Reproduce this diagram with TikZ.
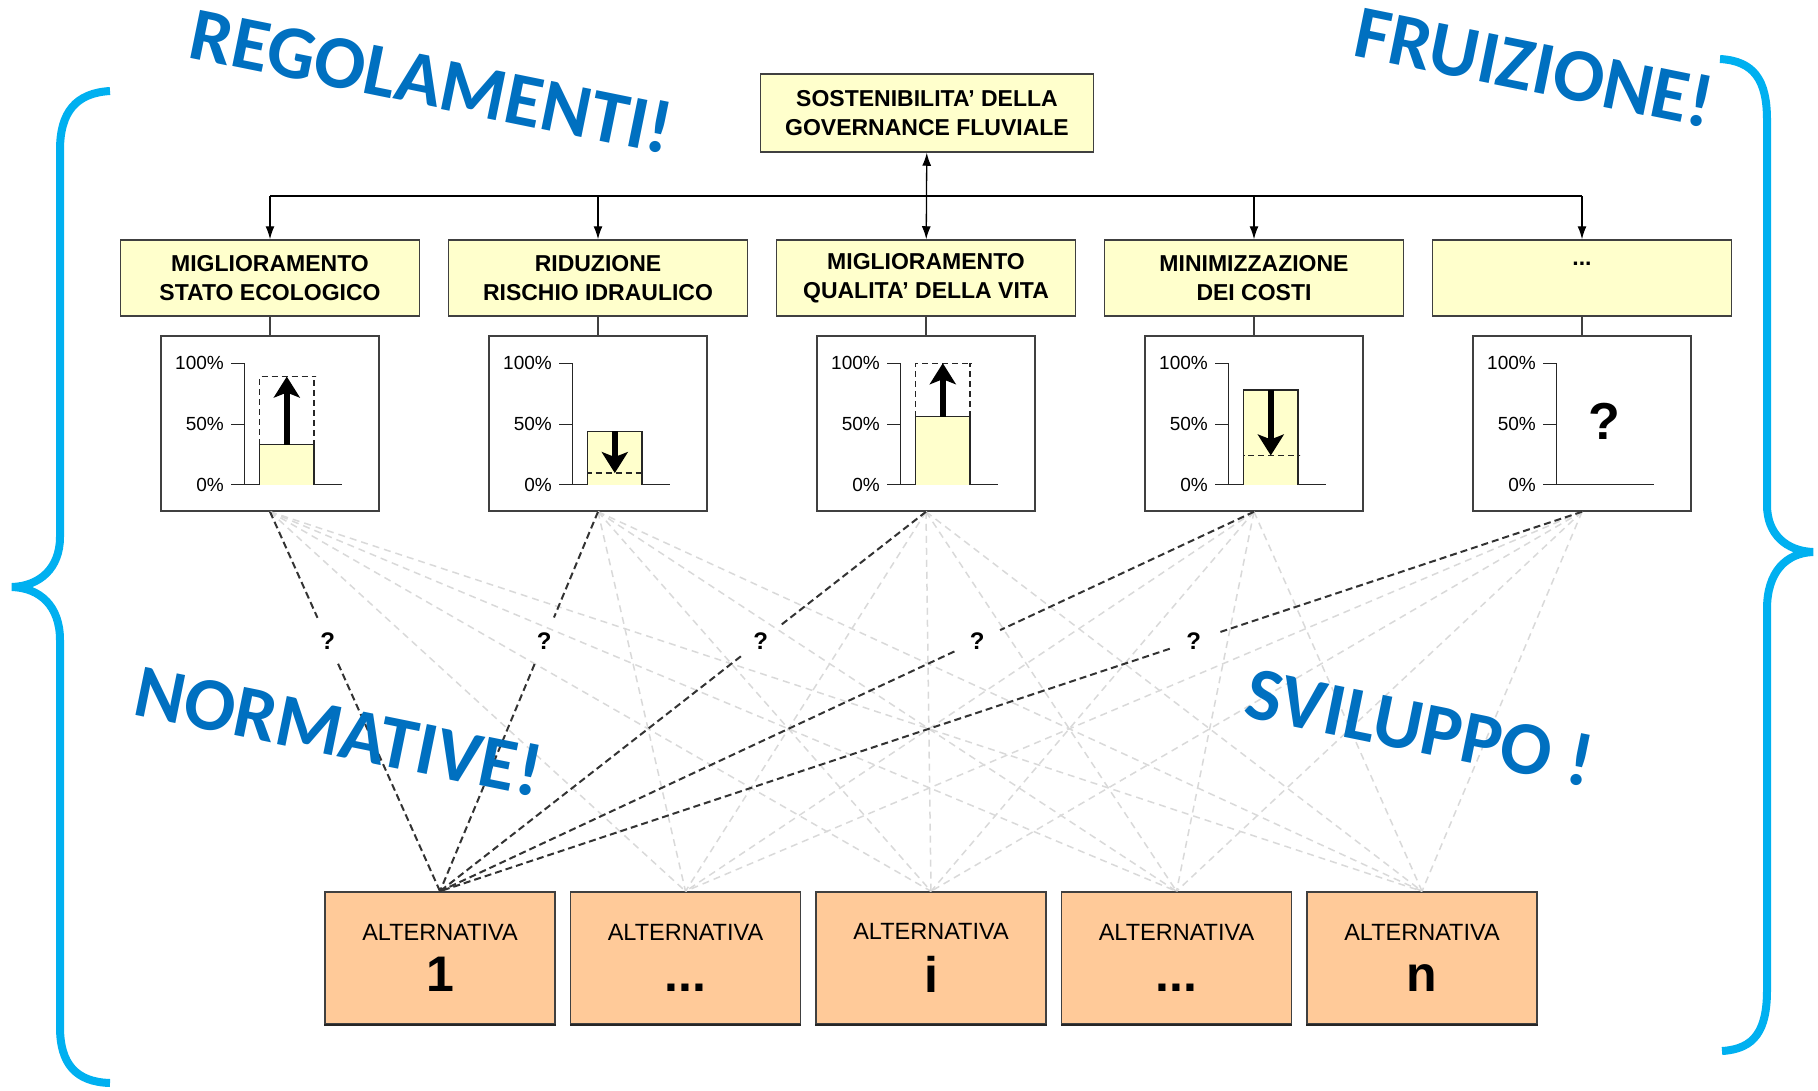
\documentclass[tikz,border=0pt]{standalone}
\usepackage{fontspec}
\setmainfont{Liberation Sans}
\newfontfamily\wordfont{Carlito}
\usetikzlibrary{arrows.meta}
\definecolor{boxyellow}{HTML}{FFFFCC}
\definecolor{altorange}{HTML}{FFCA99}
\definecolor{bracecyan}{HTML}{00B0F0}
\definecolor{wordblue}{HTML}{0070C0}
\definecolor{edgegray}{HTML}{404040}

\begin{document}
\begin{tikzpicture}
  [x=1pt,y=-1pt,
   goalbox/.style={rectangle,fill=boxyellow,draw=edgegray,line width=1.5pt,minimum width=333pt,minimum height=78pt,align=center,font=\fontsize{23}{28.5}\selectfont\bfseries},
   critbox/.style={goalbox,minimum width=299pt,minimum height=76pt},
   panel/.style={rectangle,draw=edgegray,line width=1.5pt,fill=white,minimum width=218pt,minimum height=175pt},
   altbox/.style={rectangle,fill=altorange,draw=edgegray,line width=1.5pt,minimum width=230pt,minimum height=132pt,align=center,font=\fontsize{23.5}{28}\selectfont},
   bigword/.style={font=\wordfont\bfseries\fontsize{75.5}{75.5}\selectfont,text=wordblue,rotate=-11.5},
   link/.style={line width=1.3pt,-{Latex[length=13pt,width=9pt]}},
   axis/.style={line width=1.3pt,draw=black!85},
   tick/.style={anchor=east,inner sep=1pt,font=\fontsize{19}{19}\selectfont},
   trendarrow/.style={line width=5.5pt,-{Stealth[length=21pt,width=26pt,inset=5pt]}},
   graylink/.style={gray!30,line width=1.5pt,dash pattern=on 7pt off 5pt},
   darklink/.style={black!80,line width=2pt,dash pattern=on 7pt off 4pt},
   qmark/.style={circle,minimum size=50pt,inner sep=0pt,font=\fontsize{24}{24}\selectfont\bfseries},
   brace/.style={bracecyan,line width=8pt}]
  \useasboundingbox (0,0) rectangle (1818,1090);

  % goal and criteria
  \node[goalbox] (g) at (927,113) {SOSTENIBILITA’ DELLA\\GOVERNANCE FLUVIALE};
  \node[critbox] (c1) at (270,278) {MIGLIORAMENTO\\STATO ECOLOGICO};
  \node[critbox] (c2) at (598,278) {RIDUZIONE\\RISCHIO IDRAULICO};
  \node[critbox] (c3) at (926,278) {MIGLIORAMENTO\\QUALITA’ DELLA VITA};
  \node[critbox] (c4) at (1254,278) {MINIMIZZAZIONE\\DEI COSTI};
  \node[critbox] (c5) at (1582,278) {...\\\phantom{X}};

  \coordinate (s1) at (270,196);
  \coordinate (s2) at (598,196);
  \coordinate (s4) at (1254,196);
  \coordinate (s5) at (1582,196);
  \draw[line width=1.3pt] (s1) -- (s5);
  \foreach \i in {1,2,4,5}
    \draw[link] (s\i) -- (c\i);
  \draw[link,{Latex[length=13pt,width=9pt]}-{Latex[length=13pt,width=9pt]}] (g) -- (c3);

  % indicator panels
  \node[panel] (p1) at (270,423.5) {};
  \node[panel] (p2) at (598,423.5) {};
  \node[panel] (p3) at (926,423.5) {};
  \node[panel] (p4) at (1254,423.5) {};
  \node[panel] (p5) at (1582,423.5) {};
  \foreach \i in {1,...,5}
    \draw[line width=1.5pt,draw=edgegray] (c\i) -- (p\i);

  \foreach \i in {1,...,5}{
    \begin{scope}[shift={(p\i.center)}]
      \draw[axis] (-39,-60.3) -- (-25.5,-60.3) -- (-25.5,61.1) -- (72,61.1);
      \draw[axis] (-39,0.8) -- (-25.5,0.8);
      \draw[axis] (-39,61.1) -- (-25.5,61.1);
      \node[tick] (h\i) at (-45,-60.3) {100\%};
      \node[tick] (m\i) at (-45,0.8) {50\%};
      \node[tick] (z\i) at (-45,61.1) {0\%};
    \end{scope}}

  \foreach \i/\val/\goal in {1/33/89, 2/44/9.5, 3/56/100, 4/78/24}{
    \pgfmathsetmacro\yv{61.1-1.214*\val}
    \pgfmathsetmacro\yg{61.1-1.214*\goal}
    \begin{scope}[shift={(p\i.center)}]
      \fill[boxyellow] (-10.4,61.1) rectangle (44,\yv);
      \draw[axis,dash pattern=on 6pt off 4pt] (-10.4,\yv) -- (-10.4,\yg) -- (46,\yg) -- (44,\yg) -- (44,\yv);
      \draw[axis] (-10.4,61.1) -- (-10.4,\yv) -- (44,\yv) -- (44,61.1);
      \draw[trendarrow] (16.8,\yv) -- (16.8,\yg);
    \end{scope}}
  \node[font=\fontsize{52}{52}\selectfont\bfseries] (unk) at ([shift={(22,-2.5)}]p5.center) {?};

  % alternatives
  \node[altbox] (a1) at (440,958) {ALTERNATIVA\\[15.5pt]{\fontsize{50}{50}\selectfont\bfseries 1}};
  \node[altbox] (a2) at (685.5,958) {ALTERNATIVA\\[15.5pt]{\fontsize{50}{50}\selectfont\bfseries\vphantom{1}...}};
  \node[altbox] (a3) at (931,958) {ALTERNATIVA\\[15.5pt]{\fontsize{50}{50}\selectfont\bfseries\vphantom{1}i}};
  \node[altbox] (a4) at (1176.5,958) {ALTERNATIVA\\[15.5pt]{\fontsize{50}{50}\selectfont\bfseries\vphantom{1}...}};
  \node[altbox] (a5) at (1422,958) {ALTERNATIVA\\[15.5pt]{\fontsize{50}{50}\selectfont\bfseries\vphantom{1}n}};
  \foreach \j in {1,...,5}
    \draw[line width=2.5pt,draw=black!85] (a\j.south west) -- (a\j.south east);

  \foreach \i in {1,...,5}
    \foreach \j in {2,...,5}
      \draw[graylink] (p\i.south) -- (a\j.north);

  \foreach \i in {1,...,5}{
    \path (p\i.south) -- node[qmark,pos=0.34] (q\i) {?} (a1.north);
    \draw[darklink] (p\i.south) -- (q\i);
    \draw[darklink] (q\i) -- (a1.north);
  }

  % braces
  \draw[brace] (110,91) .. controls (76,93) and (60,112) .. (60,150) -- (60,537)
    .. controls (60,568) and (40,586) .. (12,587)
    .. controls (40,588) and (60,606) .. (60,640) -- (60,1027)
    .. controls (60,1064) and (76,1082) .. (110,1083);
  \draw[brace] (1720,59) .. controls (1754,61) and (1767,80) .. (1767,120) -- (1767,505)
    .. controls (1767,534) and (1786,551) .. (1813,552)
    .. controls (1786,553) and (1767,572) .. (1767,609) -- (1767,990)
    .. controls (1767,1030) and (1755,1049) .. (1722,1051);

  % words
  \node[bigword] (w1) at (432,81) {REGOLAMENTI!};
  \node[bigword] (w2) at (1535,67) {FRUIZIONE!};
  \node[bigword] (w3) at (339,731) {NORMATIVE!};
  \node[bigword] (w4) at (1420,727) {SVILUPPO !};
\end{tikzpicture}
\end{document}
